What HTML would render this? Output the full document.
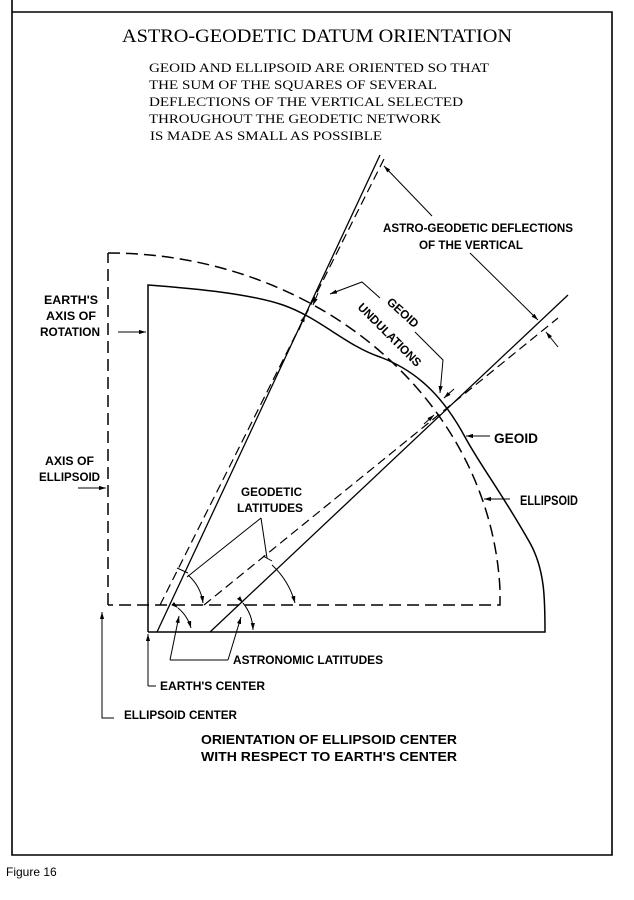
<!DOCTYPE html>
<html><head><meta charset="utf-8"><style>
html,body{margin:0;padding:0;background:#fff;width:634px;height:900px;overflow:hidden}
svg{display:block}
.s{font-family:"Liberation Serif",serif;fill:#000}
.b{font-family:"Liberation Sans",sans-serif;font-weight:bold;fill:#000;font-size:12px}
</style></head><body>
<svg width="634" height="900" viewBox="0 0 634 900" xmlns="http://www.w3.org/2000/svg">
<defs><marker id="a" viewBox="0 0 10 10" refX="10" refY="5" markerWidth="7" markerHeight="7" orient="auto"><path d="M0,2 L10,5 L0,8 z" fill="#000"/></marker></defs>
<g fill="none" stroke="#000">
<path d="M12,0 V855 H612 V12 H12" stroke-width="1.6"/>
<g stroke-dasharray="12,6" stroke-width="1.5">
<path d="M108,605 V253"/>
<path d="M108,253 A392,352 0 0 1 500,590 V605 H108"/>
</g>
<path stroke-width="1.5" d="M148,632 V285 C200,289 250,294 283,305 C320,318 345,345 380,357 C420,372 445,400 465,437 C480,465 500,490 530,543 C545,570 545,600 545,632 H148"/>
<path d="M157,632 L380,155" stroke-width="1.3"/>
<path d="M160,605 L385,157" stroke-width="1.2" stroke-dasharray="9,5"/>
<path d="M210,632 L568,295" stroke-width="1.3"/>
<path d="M204,605 L558,318" stroke-width="1.2" stroke-dasharray="9,5"/>
<path d="M261,518 L187,577 M261,518 L267,558" stroke-width="1"/>
<path d="M177,568 L188,573 M263,556 L272,561" stroke-width="1"/>
<path d="M188,575 A45,45 0 0 1 203,603" stroke-width="1" marker-end="url(#a)"/>
<path d="M272,565 A80,80 0 0 1 295,603" stroke-width="1" marker-end="url(#a)"/>
<path d="M178,608 A40,40 0 0 1 191,628" stroke-width="1" marker-start="url(#a)" marker-end="url(#a)"/>
<path d="M243,603 A45,45 0 0 1 253,630" stroke-width="1" marker-start="url(#a)" marker-end="url(#a)"/>
<path d="M170,660 L179,616" stroke-width="1" marker-end="url(#a)"/>
<path d="M228,660 L241,617" stroke-width="1" marker-end="url(#a)"/>
<path d="M170,660 H228" stroke-width="1"/>
<path d="M118,332 H146" stroke-width="1" marker-end="url(#a)"/>
<path d="M78,488 H106" stroke-width="1" marker-end="url(#a)"/>
<path d="M148,686 V634" stroke-width="1" marker-end="url(#a)"/>
<path d="M108,718 H102 V612" stroke-width="1" marker-end="url(#a)"/>
<path d="M148,686 H156 M108,718 H114" stroke-width="1"/>
<path d="M432,216 L384,166" stroke-width="1" marker-end="url(#a)"/>
<path d="M470,253 L538,320" stroke-width="1" marker-end="url(#a)"/>
<path d="M558,347 L546,332" stroke-width="1" marker-end="url(#a)"/>
<path d="M380,298 L362,282 L330,294" stroke-width="1" marker-end="url(#a)"/>
<path d="M415,332 L443,360 L440,393" stroke-width="1" marker-end="url(#a)"/>
<path d="M454,389 L444,398" stroke-width="1" marker-end="url(#a)"/>
<path d="M424,424 L434,415" stroke-width="1" marker-end="url(#a)"/>
<path d="M318,293 L313,305" stroke-width="1" marker-end="url(#a)"/>
<path d="M299,330 L305,315" stroke-width="1" marker-end="url(#a)"/>
<path d="M490,436 H466" stroke-width="1" marker-end="url(#a)"/>
<path d="M510,499 H484" stroke-width="1" marker-end="url(#a)"/>
</g>
<text class="s" x="122" y="42" font-size="19" textLength="390" lengthAdjust="spacingAndGlyphs">ASTRO-GEODETIC DATUM ORIENTATION</text>
<g class="s" font-size="13">
<text x="149" y="72" textLength="340" lengthAdjust="spacingAndGlyphs">GEOID AND ELLIPSOID ARE ORIENTED SO THAT</text>
<text x="149" y="89" textLength="288" lengthAdjust="spacingAndGlyphs">THE SUM OF THE SQUARES OF SEVERAL</text>
<text x="149" y="106" textLength="314" lengthAdjust="spacingAndGlyphs">DEFLECTIONS OF THE VERTICAL SELECTED</text>
<text x="149" y="123" textLength="292" lengthAdjust="spacingAndGlyphs">THROUGHOUT THE GEODETIC NETWORK</text>
<text x="150" y="140" textLength="232" lengthAdjust="spacingAndGlyphs">IS MADE AS SMALL AS POSSIBLE</text>
</g>
<g class="b">
<text x="383" y="232" textLength="190" lengthAdjust="spacingAndGlyphs">ASTRO-GEODETIC DEFLECTIONS</text>
<text x="419" y="249" textLength="104" lengthAdjust="spacingAndGlyphs">OF THE VERTICAL</text>
<text x="44" y="304" textLength="54" lengthAdjust="spacingAndGlyphs">EARTH'S</text>
<text x="46" y="320" textLength="50" lengthAdjust="spacingAndGlyphs">AXIS OF</text>
<text x="40" y="336" textLength="60" lengthAdjust="spacingAndGlyphs">ROTATION</text>
<text x="45" y="465" textLength="49" lengthAdjust="spacingAndGlyphs">AXIS OF</text>
<text x="39" y="481" textLength="61" lengthAdjust="spacingAndGlyphs">ELLIPSOID</text>
<text x="241" y="496" textLength="61" lengthAdjust="spacingAndGlyphs">GEODETIC</text>
<text x="237" y="512" textLength="66" lengthAdjust="spacingAndGlyphs">LATITUDES</text>
<text x="494" y="443" font-size="14" textLength="44" lengthAdjust="spacingAndGlyphs">GEOID</text>
<text x="520" y="505" font-size="14" textLength="58" lengthAdjust="spacingAndGlyphs">ELLIPSOID</text>
<text transform="translate(386,303) rotate(42)" textLength="38" lengthAdjust="spacingAndGlyphs">GEOID</text>
<text transform="translate(357,308) rotate(45)" textLength="84" lengthAdjust="spacingAndGlyphs">UNDULATIONS</text>
<text x="233" y="664" textLength="150" lengthAdjust="spacingAndGlyphs">ASTRONOMIC LATITUDES</text>
<text x="160" y="690" textLength="105" lengthAdjust="spacingAndGlyphs">EARTH'S CENTER</text>
<text x="124" y="719" textLength="113" lengthAdjust="spacingAndGlyphs">ELLIPSOID CENTER</text>
<text x="201" y="744" font-size="13" textLength="256" lengthAdjust="spacingAndGlyphs">ORIENTATION OF ELLIPSOID CENTER</text>
<text x="201" y="761" font-size="13" textLength="256" lengthAdjust="spacingAndGlyphs">WITH RESPECT TO EARTH'S CENTER</text>
</g>
<text x="6" y="876" font-family="Liberation Sans,sans-serif" font-size="12" fill="#000">Figure 16</text>
</svg>
</body></html>
